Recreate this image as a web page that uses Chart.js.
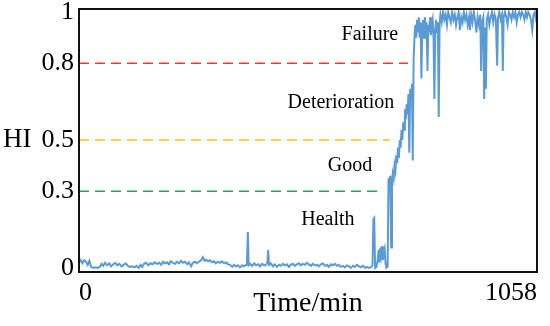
<!DOCTYPE html>
<html lang="en">
<head>
  <meta charset="UTF-8" />
  <title>HI over time</title>
  <style>
    html, body {
      margin: 0;
      padding: 0;
      background: #fff;
    }
    canvas { display: block; }
  </style>
</head>
<body>

<canvas id="hiChart" width="550" height="326"></canvas>

<script src="https://cdn.jsdelivr.net/npm/chart.js"></script>

<script>
  // time in minutes, health index
  const times = [
    0, 4, 8, 12, 16, 20, 24, 28, 33, 38, 43, 48, 52, 56, 60, 65, 70, 74, 79, 84,
    88, 93, 98, 103, 108, 113, 118, 123, 128, 133, 138, 142, 146, 150, 155, 160, 165, 170, 175, 180,
    185, 190, 194, 198, 203, 208, 212, 217, 222, 226, 231, 236, 240, 245, 250, 254, 259, 263, 268, 272,
    277, 282, 286, 290, 294, 298, 303, 307, 312, 316, 321, 326, 330, 335, 340, 344, 349, 354, 358, 363,
    367, 372, 377, 381, 386, 388, 390, 392, 396, 400, 405, 409, 414, 418, 423, 428, 432, 435, 437, 439,
    443, 448, 452, 457, 462, 466, 471, 475, 480, 485, 489, 494, 499, 503, 508, 512, 517, 522, 526, 531,
    536, 540, 545, 550, 554, 559, 563, 568, 573, 577, 582, 587, 591, 596, 600, 605, 610, 614, 619, 624,
    628, 633, 637, 642, 647, 651, 656, 661, 665, 670, 674, 678, 680, 682, 684, 687, 690, 692, 694, 696,
    698, 700, 702, 704, 706, 708, 710, 713, 715, 717, 719, 721, 723, 725, 727, 729, 731, 733, 735, 737,
    739, 741, 743, 745, 747, 749, 751, 753, 755, 757, 759, 761, 763, 765, 767, 769, 771, 773, 775, 777,
    779, 781, 783, 785, 787, 789, 791, 793, 795, 797, 799, 801, 803, 805, 807, 809, 811, 813, 815, 817,
    819, 821, 823, 825, 827, 829, 831, 833, 835, 838, 841, 844, 847, 850, 853, 856, 859, 862, 865, 868,
    871, 874, 877, 880, 883, 886, 889, 892, 895, 898, 901, 903, 906, 909, 912, 915, 918, 921, 924, 927,
    929, 931, 934, 936, 938, 940, 942, 945, 948, 951, 954, 957, 960, 963, 966, 968, 971, 974, 977, 979,
    981, 984, 987, 990, 993, 996, 999, 1002, 1005, 1008, 1011, 1014, 1017, 1020, 1023, 1026, 1029, 1032, 1035, 1038,
    1041, 1044, 1047, 1050, 1053, 1056, 1058
  ];
  const hi = [
    0.02, 0.03, 0.018, 0.03, 0.025, 0.012, 0.028, 0.004, 0.0, 0.002, 0.0, 0.004, 0.016, 0.008, 0.02, 0.01, 0.018, 0.006, 0.014, 0.02,
    0.01, 0.016, 0.006, 0.012, 0.018, 0.008, 0.004, 0.006, 0.002, 0.008, 0.0, 0.012, 0.004, 0.016, 0.02, 0.01, 0.018, 0.014, 0.022, 0.016,
    0.02, 0.012, 0.024, 0.018, 0.022, 0.014, 0.026, 0.02, 0.016, 0.024, 0.018, 0.028, 0.02, 0.024, 0.014, 0.022, 0.006, 0.02, 0.024, 0.018,
    0.024, 0.03, 0.042, 0.028, 0.032, 0.026, 0.03, 0.022, 0.026, 0.018, 0.024, 0.02, 0.026, 0.018, 0.022, 0.014, 0.012, 0.004, 0.012, 0.006,
    0.01, 0.002, 0.01, 0.006, 0.012, 0.02, 0.14, 0.01, 0.016, 0.008, 0.018, 0.01, 0.014, 0.006, 0.016, 0.01, 0.012, 0.02, 0.07, 0.012,
    0.018, 0.006, 0.014, 0.004, 0.012, 0.008, 0.016, 0.01, 0.014, 0.004, 0.012, 0.016, 0.008, 0.014, 0.018, 0.01, 0.016, 0.012, 0.02, 0.014,
    0.008, 0.016, 0.01, 0.012, 0.006, 0.014, 0.018, 0.008, 0.012, 0.004, 0.014, 0.01, 0.016, 0.008, 0.012, 0.004, 0.008, 0.002, 0.01, 0.006,
    0.0, 0.008, 0.004, 0.012, 0.006, 0.002, 0.008, 0.0, 0.004, 0.0, 0.002, 0.01, 0.19, 0.195, 0.0, 0.004, 0.03, 0.07, 0.02, 0.08,
    0.05, 0.085, 0.03, 0.06, 0.075, 0.02, 0.0, 0.004, 0.35, 0.33, 0.36, 0.08, 0.34, 0.37, 0.35, 0.4, 0.38, 0.44, 0.41, 0.47,
    0.43, 0.5, 0.47, 0.54, 0.5, 0.57, 0.54, 0.62, 0.58, 0.64, 0.6, 0.68, 0.45, 0.7, 0.66, 0.72, 0.42, 0.82, 0.9, 0.95,
    0.9, 0.97, 0.92, 0.98, 0.9, 0.96, 0.74, 0.94, 0.97, 0.9, 0.98, 0.93, 0.96, 0.77, 0.95, 0.92, 0.98, 0.91, 0.95, 0.97,
    0.9, 0.66, 0.93, 0.97, 0.92, 0.96, 0.59, 0.95, 0.99, 0.96, 1.0, 0.97, 0.99, 0.95, 1.0, 0.98, 0.96, 1.0, 0.97, 0.99,
    0.95, 0.98, 1.0, 0.93, 0.98, 0.96, 1.0, 0.97, 0.99, 0.95, 0.98, 0.93, 0.99, 0.96, 1.0, 0.97, 0.92, 0.98, 0.95, 0.99,
    0.77, 0.96, 0.98, 0.66, 0.94, 0.7, 0.97, 0.99, 0.95, 0.98, 1.0, 0.96, 0.99, 0.97, 0.79, 0.98, 1.0, 0.97, 0.99, 0.77,
    0.98, 1.0, 0.98, 0.95, 1.0, 0.99, 0.97, 1.0, 0.98, 1.0, 0.96, 0.99, 1.0, 0.98, 1.0, 0.99, 0.97, 1.0, 0.98, 1.0,
    0.99, 0.97, 0.93, 0.99, 1.0, 0.97, 0.98
  ];

  // threshold lines: level, where the dash stops (min), colour
  const thresholdLevels = [0.8, 0.5, 0.3];
  const thresholdEnds = [760, 718, 700];
  const thresholdColors = ['#ff3333', '#ffc000', '#22a84a'];

  // stage labels and where they sit (min, HI)
  const stageNames = ['Failure', 'Deterioration', 'Good', 'Health'];
  const stageX = [672, 605, 626, 575];
  const stageY = [0.91, 0.645, 0.40, 0.19];

  const yTicks = [0, 0.3, 0.5, 0.8, 1];
  const xTicks = [0, 1058];

  const serif = '"Liberation Serif", "Times New Roman", serif';

  const datasets = thresholdLevels.map((lvl, i) => ({
    data: [{ x: 0, y: lvl }, { x: thresholdEnds[i], y: lvl }],
    borderColor: thresholdColors[i],
    borderWidth: 1.5,
    borderDash: [10, 6],
    pointRadius: 0,
  }));
  datasets.push({
    data: times.map((t, i) => ({ x: t, y: hi[i] })),
    borderColor: '#5b9bd5',
    borderWidth: 2,
    pointRadius: 0,
    tension: 0,
  });

  // frame, stage names and the horizontal "HI" label
  const decorations = {
    id: 'decorations',
    afterDatasetsDraw(chart) {
      const { ctx, chartArea, scales } = chart;
      ctx.save();
      ctx.fillStyle = '#000';
      ctx.font = '20px ' + serif;
      ctx.textAlign = 'center';
      ctx.textBaseline = 'middle';
      stageNames.forEach((name, i) => {
        ctx.fillText(name, scales.x.getPixelForValue(stageX[i]), scales.y.getPixelForValue(stageY[i]));
      });

      ctx.font = '27px ' + serif;
      ctx.textAlign = 'left';
      ctx.fillText('HI', 3, scales.y.getPixelForValue(0.5));

      ctx.strokeStyle = '#111';
      ctx.lineWidth = 2;
      ctx.strokeRect(chartArea.left, chartArea.top, chartArea.right - chartArea.left, chartArea.bottom - chartArea.top);
      ctx.restore();
    }
  };

  const ctx = document.getElementById('hiChart').getContext('2d');
  const hiChart = new Chart(ctx, {
    type: 'line',
    data: { datasets },
    plugins: [decorations],
    options: {
      responsive: false,
      animation: false,
      layout: { autoPadding: false, padding: { top: 9, right: 13, left: 0, bottom: 0 } },
      plugins: {
        legend: { display: false },
        tooltip: { enabled: false },
      },
      scales: {
        x: {
          type: 'linear',
          min: 0,
          max: 1058,
          grid: { display: false, drawTicks: false },
          border: { display: false },
          afterBuildTicks: scale => { scale.ticks = xTicks.map(v => ({ value: v })); },
          afterFit: scale => {
            scale.height = 54;
            scale.paddingLeft = 0;
            scale.paddingRight = 0;
          },
          ticks: {
            align: 'inner',
            maxRotation: 0,
            padding: 6,
            color: '#000',
            font: { family: serif, size: 26 },
            callback: v => String(v),
          },
          title: {
            display: true,
            text: 'Time/min',
            color: '#000',
            font: { family: serif, size: 28 },
            padding: { top: 0, bottom: 6 },
          },
        },
        y: {
          min: -0.016,
          max: 1.012,
          grid: { display: false, drawTicks: false },
          border: { display: false },
          afterBuildTicks: scale => { scale.ticks = yTicks.map(v => ({ value: v })); },
          afterFit: scale => {
            scale.width = 79;
            scale.paddingTop = 0;
            scale.paddingBottom = 0;
          },
          ticks: {
            padding: 5,
            color: '#000',
            font: { family: serif, size: 26 },
            callback: v => String(v),
          },
        },
      },
    },
  });
</script>

</body>
</html>
